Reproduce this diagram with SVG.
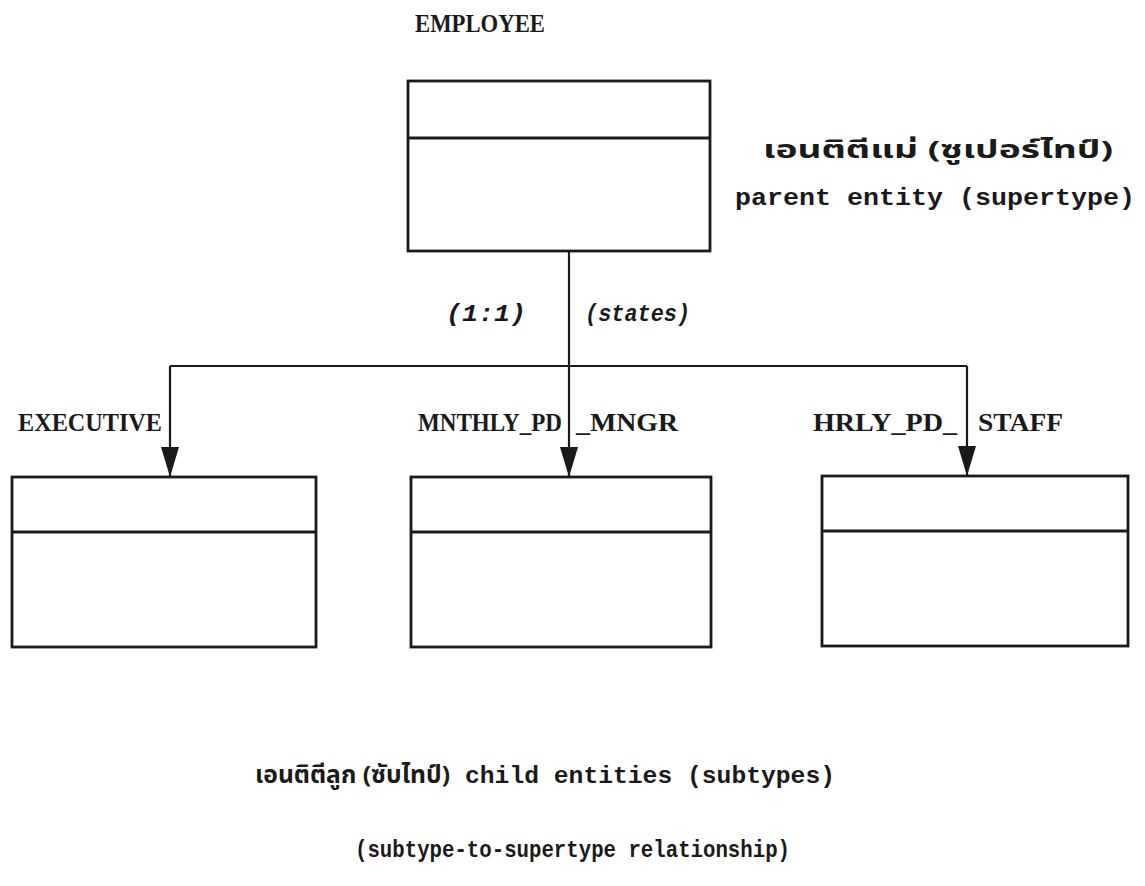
<svg xmlns="http://www.w3.org/2000/svg" width="1145" height="886" viewBox="0 0 1145 886">
<defs>
<style>
.box{fill:none;stroke:#1a1a1a;stroke-width:2.8}
.line{fill:none;stroke:#1a1a1a;stroke-width:2.2}
.cap{font-family:"Liberation Serif",serif;font-weight:bold;font-size:25px;fill:#1a1a1a}
.mono{font-family:"Liberation Mono",monospace;font-weight:bold;font-size:24px;fill:#1a1a1a}
.ital{font-family:"Liberation Mono",monospace;font-style:italic;font-weight:bold;font-size:24px;fill:#1a1a1a}
.thai{font-family:"Noto Sans Thai","Noto Serif Thai","Noto Sans","DejaVu Sans",sans-serif;font-weight:bold;font-size:24px;fill:#1a1a1a}
</style>
<marker id="arr" viewBox="0 0 30 18" refX="30" refY="9" markerWidth="30" markerHeight="18" markerUnits="userSpaceOnUse" orient="auto">
<path d="M0,0 L30,9 L0,18 Z" fill="#1a1a1a"/>
</marker>
</defs>
<rect width="1145" height="886" fill="#ffffff"/>

<g id="employee">
<rect class="box" x="408" y="81" width="302" height="170"/>
<line class="box" x1="408" y1="138" x2="710" y2="138"/>
<text class="cap" x="415" y="32" textLength="130" lengthAdjust="spacingAndGlyphs">EMPLOYEE</text>
</g>

<g id="executive">
<rect class="box" x="12" y="477" width="304" height="170"/>
<line class="box" x1="12" y1="532" x2="316" y2="532"/>
<text class="cap" x="18" y="431" textLength="144" lengthAdjust="spacingAndGlyphs">EXECUTIVE</text>
</g>

<g id="mnthly_pd_mngr">
<rect class="box" x="411" y="477" width="300" height="170"/>
<line class="box" x1="411" y1="532" x2="711" y2="532"/>
<text class="cap" x="418" y="431" textLength="144" lengthAdjust="spacingAndGlyphs">MNTHLY_PD</text>
<text class="cap" x="576" y="431" textLength="102" lengthAdjust="spacingAndGlyphs">_MNGR</text>
</g>

<g id="hrly_pd_staff">
<rect class="box" x="822" y="476" width="306" height="170"/>
<line class="box" x1="822" y1="531" x2="1128" y2="531"/>
<text class="cap" x="813" y="431" textLength="144" lengthAdjust="spacingAndGlyphs">HRLY_PD_</text>
<text class="cap" x="978" y="431" textLength="85" lengthAdjust="spacingAndGlyphs">STAFF</text>
</g>

<g id="connectors">
<line class="line" x1="569" y1="251" x2="569" y2="477" marker-end="url(#arr)"/>
<line class="line" x1="170" y1="366" x2="967" y2="366"/>
<line class="line" x1="170" y1="366" x2="170" y2="477" marker-end="url(#arr)"/>
<line class="line" x1="967" y1="366" x2="967" y2="476" marker-end="url(#arr)"/>
<text class="ital" x="446" y="321" textLength="80" lengthAdjust="spacingAndGlyphs">(1:1)</text>
<text class="ital" x="585" y="321" textLength="105" lengthAdjust="spacingAndGlyphs">(states)</text>
</g>

<g id="labels">
<text class="thai" x="763" y="158" textLength="350" lengthAdjust="spacingAndGlyphs">เอนติตีแม่ (ซูเปอร์ไทป์)</text>
<text class="mono" x="735" y="205" textLength="400" lengthAdjust="spacingAndGlyphs">parent entity (supertype)</text>
<text class="thai" x="255" y="783" textLength="195" lengthAdjust="spacingAndGlyphs">เอนติตีลูก (ซับไทป์)</text>
<text class="mono" x="465" y="783" textLength="370" lengthAdjust="spacingAndGlyphs">child entities (subtypes)</text>
<text class="mono" x="355" y="857" textLength="435" lengthAdjust="spacingAndGlyphs">(subtype-to-supertype relationship)</text>
</g>
</svg>
